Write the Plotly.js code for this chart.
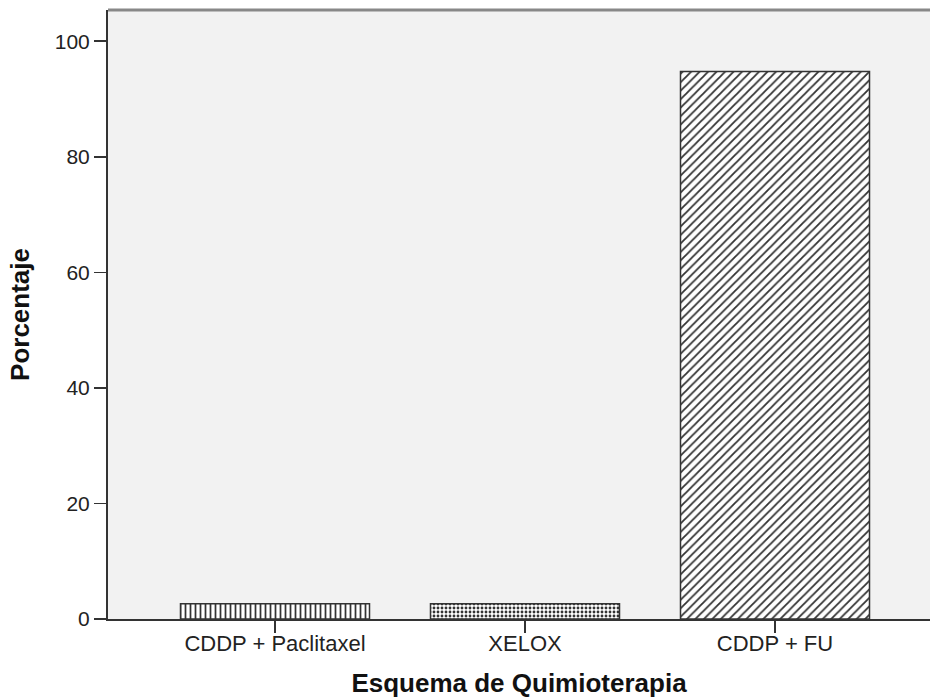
<!DOCTYPE html>
<html>
<head>
<meta charset="utf-8">
<script src="https://cdn.plot.ly/plotly-3.0.1.min.js"></script>
<style>html,body{margin:0;padding:0;background:#fff;}#chart{width:930px;height:698px;}</style>
</head>
<body>
<div id="chart"></div>
<script>
var categories = ["CDDP + Paclitaxel", "XELOX", "CDDP + FU"];
var percentages = [2.63, 2.63, 94.74];
var patterns = ["|", ".", "/"];
var yTicks = [0, 20, 40, 60, 80, 100];

var trace = {
  type: "bar",
  x: categories,
  y: percentages,
  width: 0.756,
  marker: {
    color: "#ffffff",
    line: {color: "#333333", width: 1.5},
    pattern: {shape: patterns, fgcolor: "#333333", bgcolor: "#ffffff", size: [5, 4, 6], solidity: [0.35, 0.4, 0.3]}
  },
  hoverinfo: "none"
};

// invisible companion trace that only carries the long category ticks (xaxis2)
var tickTrace = {
  type: "scatter", mode: "none",
  x: categories, y: percentages,
  xaxis: "x2", yaxis: "y",
  hoverinfo: "none", showlegend: false
};

var xRange = [-0.668, 2.62];

var layout = {
  width: 930, height: 698,
  margin: {l: 108, r: 0, t: 10, b: 79},
  paper_bgcolor: "#ffffff",
  plot_bgcolor: "#f2f2f2",
  showlegend: false,
  font: {family: "Liberation Sans, Arial, sans-serif", color: "#222"},
  xaxis: {
    type: "category",
    categoryarray: categories,
    range: xRange,
    showgrid: false, zeroline: false,
    showline: true, linecolor: "#333", linewidth: 2,
    ticks: "outside", ticklen: 4, tickcolor: "#333", tickwidth: 1.5,
    tickfont: {size: 22, color: "#222"},
    title: {text: "<b>Esquema de Quimioterapia</b>", font: {size: 26, color: "#111"}, standoff: 18}
  },
  xaxis2: {
    type: "category",
    categoryarray: categories,
    range: xRange,
    overlaying: "x", anchor: "y", side: "bottom",
    showgrid: false, zeroline: false, showline: false,
    showticklabels: false,
    ticks: "outside", ticklen: 13, tickcolor: "#333", tickwidth: 1.5
  },
  yaxis: {
    range: [0, 105.4],
    tickvals: yTicks,
    showgrid: false, zeroline: false,
    showline: true, linecolor: "#333", linewidth: 2,
    ticks: "outside", ticklen: 12, tickcolor: "#333", tickwidth: 1.5,
    tickfont: {size: 21, color: "#222"},
    title: {text: "<b>Porcentaje</b>", font: {size: 26, color: "#111"}, standoff: 18}
  },
  shapes: [{
    type: "line", xref: "paper", yref: "paper", x0: 0, x1: 1, y0: 1, y1: 1,
    line: {color: "#888888", width: 3}
  }]
};

Plotly.newPlot("chart", [trace, tickTrace], layout, {displayModeBar: false, staticPlot: true});
</script>
</body>
</html>
